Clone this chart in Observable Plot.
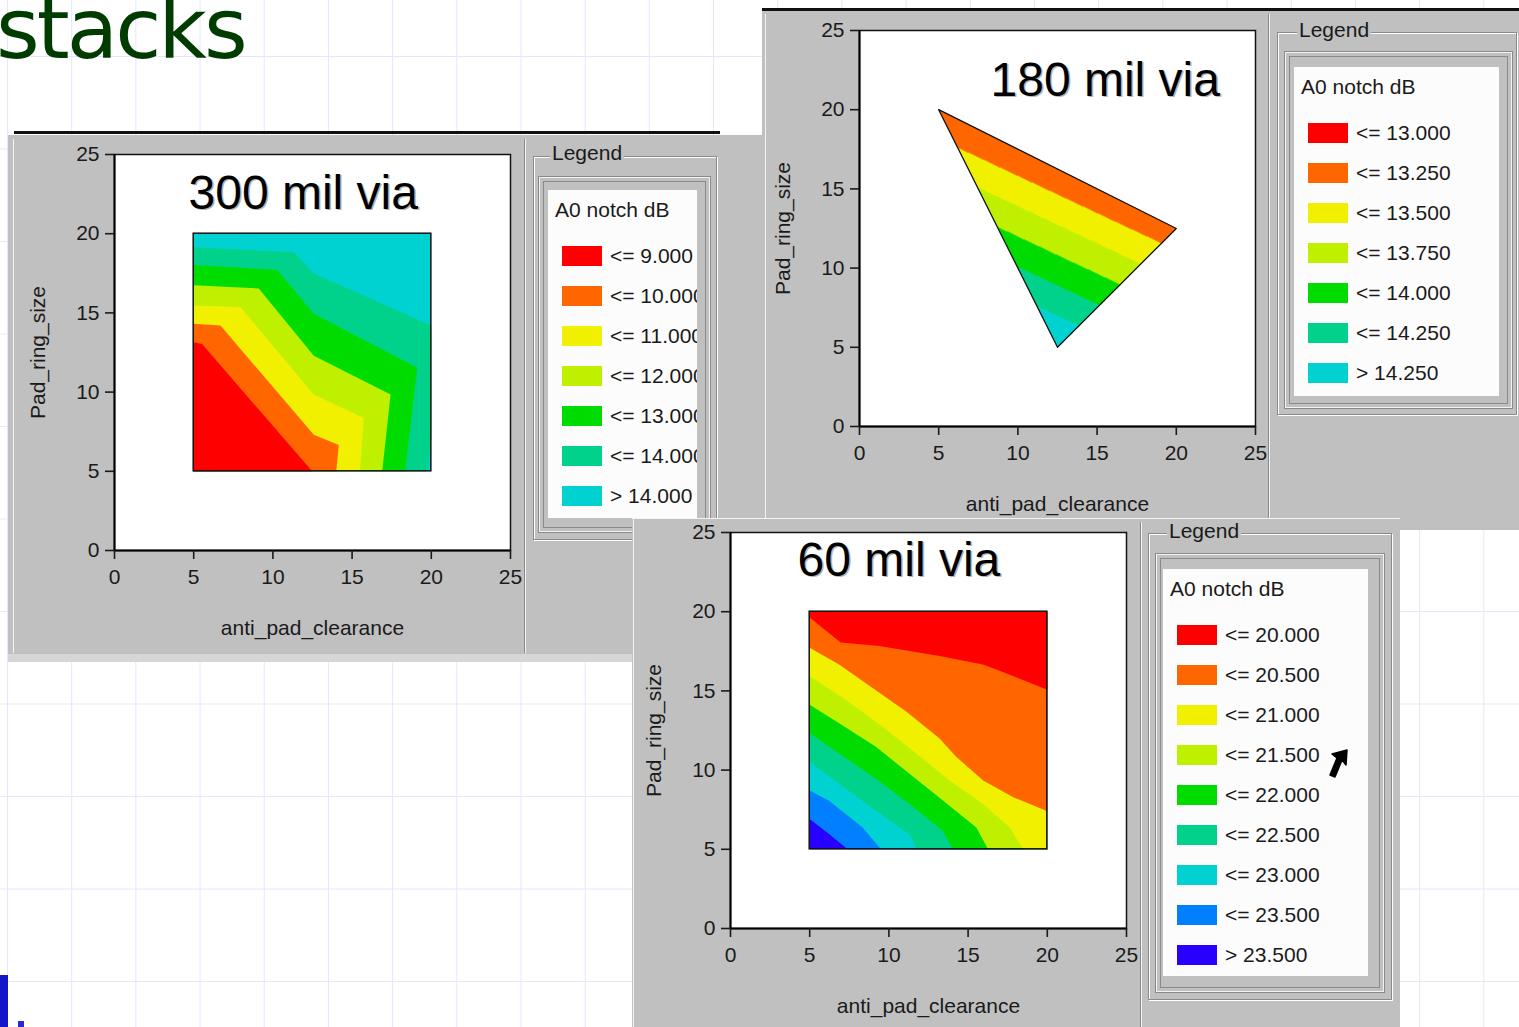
<!DOCTYPE html>
<html>
<head>
<meta charset="utf-8">
<script src="https://cdn.jsdelivr.net/npm/d3@7"></script>
<script src="https://cdn.jsdelivr.net/npm/@observablehq/plot@0.6"></script>
<style>
html, body { margin: 0; padding: 0; }
body { width: 1519px; height: 1027px; position: relative; overflow: hidden; background: #fff;
  font-family: "Liberation Sans", Arial, sans-serif; }
#grid { position: absolute; left: 0; top: 0; width: 1519px; height: 1027px;
  background-image: linear-gradient(to right, #e3e7fb 1px, transparent 1px),
                    linear-gradient(to bottom, #e3e7fb 1px, transparent 1px);
  background-size: 64.2px 92.5px; background-position: 7px 56px; }
#slideTitle { position: absolute; left: -4px; top: -13px; font-family: "DejaVu Sans", sans-serif;
  font-size: 84px; line-height: 84px; letter-spacing: -3px; color: #003c00; white-space: nowrap; }
</style>
</head>
<body>
<div id="grid"></div>
<div id="slideTitle">stacks</div>
<script>
// ---------------- data ----------------
const axisTicks = [0, 5, 10, 15, 20, 25];
const sweepRange = [5, 20];               // swept anti_pad_clearance and Pad_ring_size
const xLabel = "anti_pad_clearance";
const yLabel = "Pad_ring_size";
const legendTitle = "A0 notch dB";

const colors7 = ["#ff0000", "#ff6600", "#f0f000", "#bef000", "#00dc00", "#00d28c", "#00d2d2"];
const colors9 = ["#ff0000", "#ff6600", "#f0f000", "#bef000", "#00dc00", "#00d28c", "#00d2d2", "#0080ff", "#2800ff"];

// 300 mil via: contour boundaries (anti_pad_clearance, Pad_ring_size), from the left edge
const via300Title = "300 mil via";
const via300Labels = ["<= 9.000", "<= 10.000", "<= 11.000", "<= 12.000", "<= 13.000", "<= 14.000", "> 14.000"];
const via300Iso9  = [[5, 13.14], [5.53, 13.03], [12.48, 5]];
const via300Iso10 = [[5, 14.31], [6.69, 14.2], [12.58, 7.3], [14.16, 6.66], [14.0, 5]];
const via300Iso11 = [[5, 15.47], [7.95, 15.37], [12.58, 9.85], [15.74, 8.36], [15.5, 5]];
const via300Iso12 = [[5, 16.75], [9.11, 16.54], [12.58, 12.29], [17.43, 9.85], [16.9, 5]];
const via300Iso13 = [[5, 18.02], [10.27, 17.71], [12.58, 14.94], [19.11, 11.54], [18.35, 5]];
const via300Iso14 = [[5, 19.15], [11.32, 18.83], [12.58, 17.49], [20, 14.2], [20, 7.08], [19.75, 5]];

// 180 mil via: triangular sample region, corner values (dB)
const via180Title = "180 mil via";
const via180Labels = ["<= 13.000", "<= 13.250", "<= 13.500", "<= 13.750", "<= 14.000", "<= 14.250", "> 14.250"];
const via180Levels = [13, 13.25, 13.5, 13.75, 14, 14.25];
const via180X  = [5, 20, 12.5];
const via180Y  = [20, 12.5, 5];
const via180Db = [13.01, 13.07, 14.51];

// 60 mil via: contour boundaries, from the left edge
const via60Title = "60 mil via";
const via60Labels = ["<= 20.000", "<= 20.500", "<= 21.000", "<= 21.500", "<= 22.000", "<= 22.500", "<= 23.000", "<= 23.500", "> 23.500"];
const via60Iso20   = [[5, 19.64], [6.96, 18.05], [9.39, 17.84], [13.2, 17.2], [15.94, 16.67], [16.79, 16.35], [20, 15.08]];
const via60Iso20_5 = [[5, 17.73], [6.86, 16.67], [8.97, 15.19], [11.09, 13.7], [13.2, 12.0], [14.26, 10.83], [15.95, 9.35], [17.85, 8.29], [20, 7.4]];
const via60Iso21   = [[5, 15.93], [7.28, 14.44], [9.6, 12.74], [11.72, 11.05], [13.83, 9.35], [15.94, 7.86], [17.63, 6.37], [18.48, 5]];
const via60Iso21_5 = [[5, 14.12], [6.86, 12.96], [9.18, 11.47], [11.3, 9.77], [13.41, 8.08], [15.52, 6.38], [16.26, 5]];
const via60Iso22   = [[5, 12.32], [6.86, 11.05], [9.18, 9.45], [11.3, 7.86], [13.41, 6.17], [14.04, 5]];
const via60Iso22_5 = [[5, 10.52], [6.86, 9.14], [9.18, 7.44], [11.3, 5.95], [11.76, 5]];
const via60Iso23   = [[5, 8.71], [6.23, 8.07], [8.34, 6.38], [9.5, 5]];
const via60Iso23_5 = [[5, 6.91], [6.23, 5.95], [7.39, 5]];

// ---------------- helpers ----------------
const FONT = '"Liberation Sans", Arial, sans-serif';
const [lo, hi] = sweepRange;

// nested "<= level" regions, painted from the largest to the smallest
function bandRows(isolines, labels, lowCorner) {
  const rows = [];
  const push = (band, pts) => pts.forEach(([x, y]) => rows.push({band, x, y}));
  push(labels[labels.length - 1], [[lo, lo], [lo, hi], [hi, hi], [hi, lo]]);
  for (let k = isolines.length - 1; k >= 0; --k) {
    const iso = isolines[k];
    const pts = lowCorner === "bottom-left"
      ? [[lo, lo], ...iso]
      : [[lo, hi], [hi, hi], [hi, lo], ...iso.slice().reverse()];
    push(labels[k], pts);
  }
  return rows;
}

function via180Value(x, y) {
  const [ax, bx, cx] = via180X, [ay, by, cy] = via180Y;
  const d = (by - cy) * (ax - cx) + (cx - bx) * (ay - cy);
  const l1 = ((by - cy) * (x - cx) + (cx - bx) * (y - cy)) / d;
  const l2 = ((cy - ay) * (x - cx) + (ax - cx) * (y - cy)) / d;
  const l3 = 1 - l1 - l2;
  if (l1 < 0 || l2 < 0 || l3 < 0) return NaN;
  return l1 * via180Db[0] + l2 * via180Db[1] + l3 * via180Db[2];
}

function div(parent, css, text) {
  const e = document.createElement("div");
  e.style.cssText = css;
  if (text != null) e.textContent = text;
  parent.appendChild(e);
  return e;
}

function makeChart({left, top, title, tdx, tdy, color, marks}) {
  const svg = Plot.plot({
    width: 516, height: 526,
    marginLeft: 100, marginTop: 30, marginRight: 20, marginBottom: 100,
    x: {domain: [0, 25]},
    y: {domain: [0, 25]},
    color,
    style: {background: "transparent", fontFamily: FONT, fontSize: "21px", color: "#1a1a1a", overflow: "visible", maxWidth: "none"},
    marks: [
      Plot.frame({fill: "white", stroke: "none"}),
      ...marks,
      Plot.frame({stroke: "#111", strokeWidth: 1.5, fill: "none"}),
      Plot.ruleX([0], {stroke: "black", strokeWidth: 2}),
      Plot.ruleY([0], {stroke: "black", strokeWidth: 2}),
      Plot.axisX({ticks: axisTicks, tickSize: 9, tickPadding: 10, label: null, strokeWidth: 1.6}),
      Plot.axisY({ticks: axisTicks, tickSize: 9, tickPadding: 6, label: null, strokeWidth: 1.6}),
      Plot.text([xLabel], {text: d => d, frameAnchor: "bottom", lineAnchor: "middle", textAnchor: "middle", dy: 78}),
      Plot.text([yLabel], {text: d => d, frameAnchor: "left", lineAnchor: "middle", textAnchor: "middle", dx: -76, rotate: -90}),
      Plot.text([title], {text: d => d, frameAnchor: "top-left", lineAnchor: "middle", textAnchor: "start", dx: tdx + 1.5, dy: tdy + 1.5, fontSize: 48, fill: "#b4b4b4"}),
      Plot.text([title], {text: d => d, frameAnchor: "top-left", lineAnchor: "middle", textAnchor: "start", dx: tdx, dy: tdy, fontSize: 48, fill: "#000"})
    ]
  });
  const holder = div(document.body, `position:absolute;left:${left}px;top:${top}px;width:516px;height:526px;`);
  holder.appendChild(svg);
}

function makeLegend(g, labels, colors) {
  const b = document.body;
  div(b, `position:absolute;box-sizing:border-box;left:${g.outer[0]}px;top:${g.outer[1]}px;width:${g.outer[2] - g.outer[0]}px;height:${g.outer[3] - g.outer[1]}px;border:1px solid #8a8a8a;box-shadow:1px 1px 0 #fff, inset 1px 1px 0 #fff;`);
  div(b, `position:absolute;left:${g.label[0]}px;top:${g.label[1] - 12}px;padding:0 2px;background:#c0c0c0;font-size:21px;line-height:24px;color:#1a1a1a;white-space:nowrap;`, "Legend");
  div(b, `position:absolute;box-sizing:border-box;left:${g.inner[0]}px;top:${g.inner[1]}px;width:${g.inner[2] - g.inner[0]}px;height:${g.inner[3] - g.inner[1]}px;border:1px solid #f2f2f2;box-shadow:inset 0 0 0 3px #c0c0c0, inset 0 0 0 4px #8a8a8a, 0 0 0 1px #8a8a8a;`);
  const w = div(b, `position:absolute;box-sizing:border-box;left:${g.white[0]}px;top:${g.white[1]}px;width:${g.white[2] - g.white[0]}px;height:${g.white[3] - g.white[1]}px;background:#fcfcfc;overflow:hidden;`);
  div(w, `position:absolute;left:7px;top:8px;font-size:21px;line-height:24px;color:#1a1a1a;white-space:nowrap;`, legendTitle);
  labels.forEach((lab, i) => {
    const t = 56 + 40 * i;
    div(w, `position:absolute;left:14px;top:${t}px;width:40px;height:20px;background:${colors[i]};box-shadow:0 0 0 1px rgba(255,255,255,0.6);`);
    div(w, `position:absolute;left:62px;top:${t - 2}px;font-size:21px;line-height:24px;color:#1a1a1a;white-space:nowrap;`, lab);
  });
}

function panel(x, y, w, h) {
  div(document.body, `position:absolute;left:${x}px;top:${y}px;width:${w}px;height:${h}px;background:#c0c0c0;`);
}
function line(x, y, w, h, c) {
  div(document.body, `position:absolute;left:${x}px;top:${y}px;width:${w}px;height:${h}px;background:${c};`);
}

// ---------------- 180 mil panel (top right) ----------------
panel(762, 8, 757, 522);
line(762, 8, 757, 3, "#111");
line(765, 14, 1, 512, "#f4f4f4");
line(1268, 14, 1, 512, "#8a8a8a");
line(1269, 14, 1, 512, "#f4f4f4");
makeChart({
  left: 759, top: 0, title: via180Title, tdx: 131, tdy: 50,
  color: {type: "threshold", domain: via180Levels, range: colors7},
  marks: [
    Plot.raster({fill: via180Value, x1: lo, x2: hi, y1: lo, y2: hi, pixelSize: 1}),
    Plot.line(via180X.map((_, i) => i), {x: i => via180X[i], y: i => via180Y[i], curve: "linear-closed", stroke: "#111", strokeWidth: 1.3})
  ]
});
makeLegend({outer: [1277, 32, 1517, 415], label: [1297, 30], inner: [1285, 52, 1512, 408], white: [1294, 67, 1499, 396]}, via180Labels, colors7);

// ---------------- 300 mil panel (left) ----------------
panel(8, 135, 754, 523);
line(14, 131, 706, 3, "#111");
line(13, 139, 1, 514, "#f4f4f4");
line(524, 139, 1, 514, "#8a8a8a");
line(525, 139, 1, 514, "#f4f4f4");
line(8, 654, 624, 8, "#d6d6d6");
makeChart({
  left: 14, top: 124, title: via300Title, tdx: 74, tdy: 39,
  color: {type: "ordinal", domain: via300Labels, range: colors7},
  marks: [
    Plot.line(bandRows([via300Iso9, via300Iso10, via300Iso11, via300Iso12, via300Iso13, via300Iso14], via300Labels, "bottom-left"),
      {x: "x", y: "y", z: "band", fill: "band", stroke: "none", curve: "linear-closed"}),
    Plot.rect([sweepRange], {x1: d => d[0], x2: d => d[1], y1: d => d[0], y2: d => d[1], fill: "none", stroke: "#111", strokeWidth: 1.5})
  ]
});
makeLegend({outer: [533, 156, 717, 540], label: [550, 153], inner: [539, 177, 710, 532], white: [548, 190, 697, 518]}, via300Labels, colors7);

// ---------------- 60 mil panel (bottom) ----------------
panel(632, 518, 768, 509);
line(632, 518, 768, 1, "#f4f4f4");
line(633, 518, 1, 509, "#f4f4f4");
line(1140, 522, 1, 505, "#8a8a8a");
line(1141, 522, 1, 505, "#f4f4f4");
makeChart({
  left: 630, top: 502, title: via60Title, tdx: 67, tdy: 28,
  color: {type: "ordinal", domain: via60Labels, range: colors9},
  marks: [
    Plot.line(bandRows([via60Iso20, via60Iso20_5, via60Iso21, via60Iso21_5, via60Iso22, via60Iso22_5, via60Iso23, via60Iso23_5], via60Labels, "top-right"),
      {x: "x", y: "y", z: "band", fill: "band", stroke: "none", curve: "linear-closed"}),
    Plot.rect([sweepRange], {x1: d => d[0], x2: d => d[1], y1: d => d[0], y2: d => d[1], fill: "none", stroke: "#111", strokeWidth: 1.5})
  ]
});
makeLegend({outer: [1148, 533, 1392, 1000], label: [1167, 531], inner: [1156, 554, 1384, 992], white: [1163, 569, 1368, 976]}, via60Labels, colors9);

// mouse pointer left in the screenshot
const cur = document.createElementNS("http://www.w3.org/2000/svg", "svg");
cur.setAttribute("width", "26"); cur.setAttribute("height", "32");
cur.style.cssText = "position:absolute;left:1327px;top:748px;";
cur.innerHTML = '<path d="M20,2 L19,17 L15,12 L8,29 L3,27 L10,10 L5,6 Z" fill="#000" stroke="#000" stroke-width="1.5" stroke-linejoin="round"/>';
document.body.appendChild(cur);

// slide decoration bottom-left
line(0, 975, 8, 52, "#1414c8");
line(18, 1021, 6, 6, "#2a2ad0");
</script>
</body>
</html>
